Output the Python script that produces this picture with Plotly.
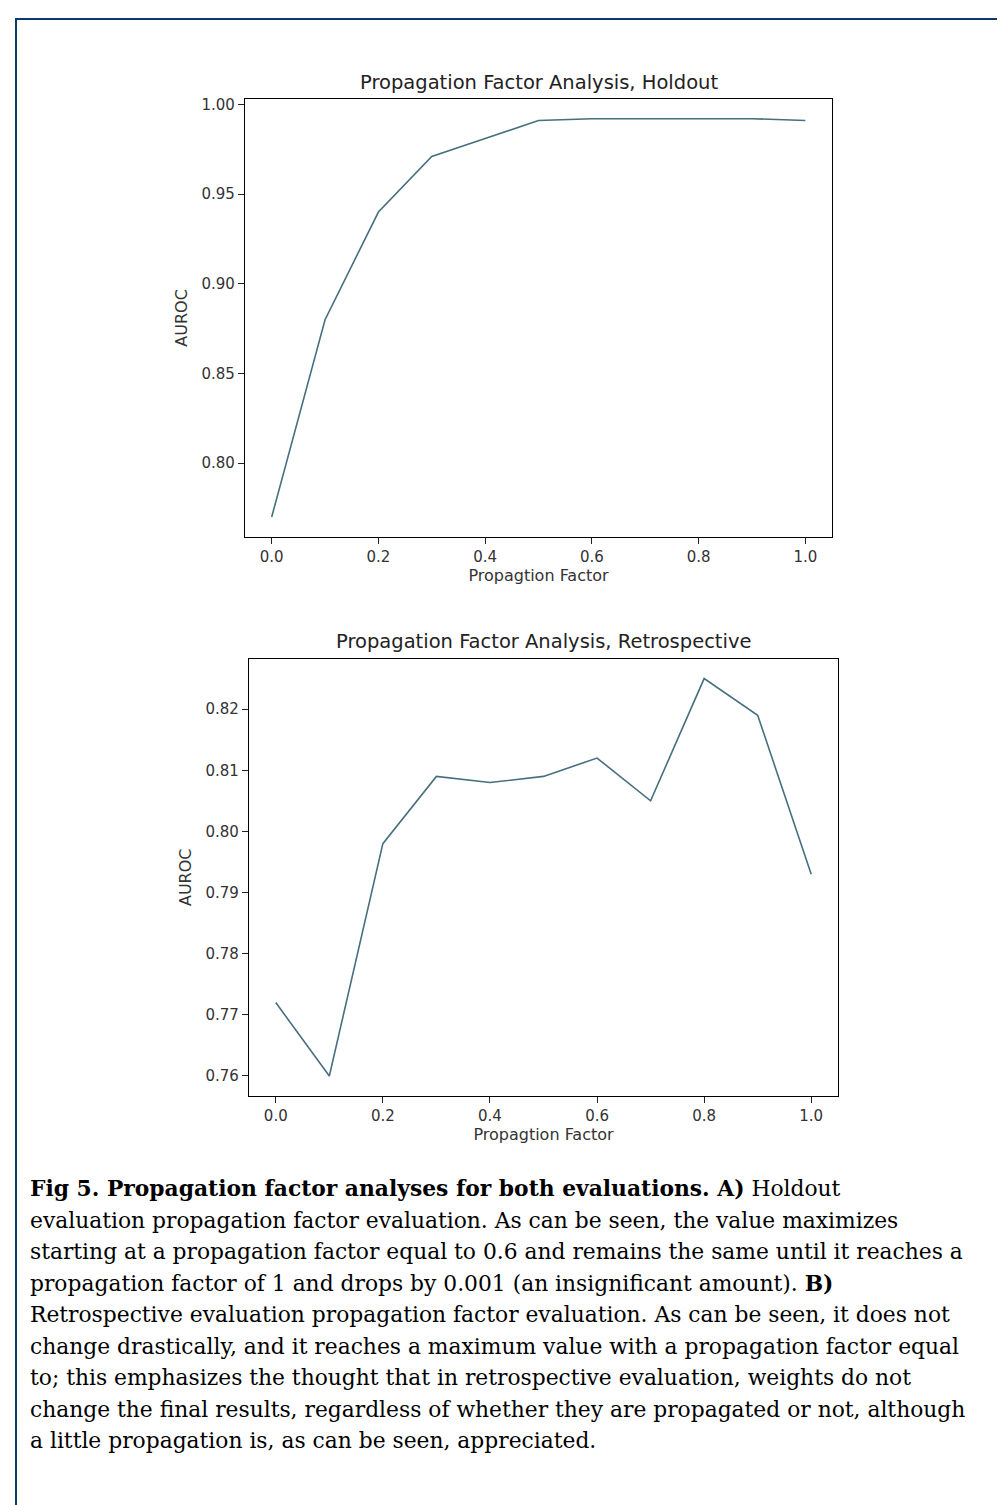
import plotly.graph_objects as go

W, H = 1005, 1505

factors = [0.0, 0.1, 0.2, 0.3, 0.4, 0.5, 0.6, 0.7, 0.8, 0.9, 1.0]
holdout_auroc = [0.770, 0.880, 0.940, 0.971, 0.981, 0.991, 0.992, 0.992, 0.992, 0.992, 0.991]
retro_auroc = [0.772, 0.760, 0.798, 0.809, 0.808, 0.809, 0.812, 0.805, 0.825, 0.819, 0.793]

x_ticks = [0.0, 0.2, 0.4, 0.6, 0.8, 1.0]
x_ticklabels = ["0.0", "0.2", "0.4", "0.6", "0.8", "1.0"]
holdout_yticks = [0.80, 0.85, 0.90, 0.95, 1.00]
holdout_yticklabels = ["0.80", "0.85", "0.90", "0.95", "1.00"]
retro_yticks = [0.76, 0.77, 0.78, 0.79, 0.80, 0.81, 0.82]
retro_yticklabels = ["0.76", "0.77", "0.78", "0.79", "0.80", "0.81", "0.82"]

title_top = "Propagation Factor Analysis, Holdout"
title_bottom = "Propagation Factor Analysis, Retrospective"
x_label = "Propagtion Factor"
y_label = "AUROC"

caption_lines = [
    "<b>Fig 5. Propagation factor analyses for both evaluations. A)</b> Holdout",
    "evaluation propagation factor evaluation. As can be seen, the value maximizes",
    "starting at a propagation factor equal to 0.6 and remains the same until it reaches a",
    "propagation factor of 1 and drops by 0.001 (an insignificant amount). <b>B)</b>",
    "Retrospective evaluation propagation factor evaluation. As can be seen, it does not",
    "change drastically, and it reaches a maximum value with a propagation factor equal",
    "to; this emphasizes the thought that in retrospective evaluation, weights do not",
    "change the final results, regardless of whether they are propagated or not, although",
    "a little propagation is, as can be seen, appreciated.",
]

LINE_COLOR = "#476f7e"
TXT = "#333333"
FONT = "DejaVu Sans"
TICK_SIZE = 15
LABEL_SIZE = 16
TITLE_SIZE = 19.5


def px_x(v):
    return v / W


def px_y(v):
    return 1 - v / H


fig = go.Figure()
fig.add_trace(go.Scatter(x=factors, y=holdout_auroc, mode="lines",
                         line=dict(color=LINE_COLOR, width=1.6),
                         xaxis="x", yaxis="y", showlegend=False))
fig.add_trace(go.Scatter(x=factors, y=retro_auroc, mode="lines",
                         line=dict(color=LINE_COLOR, width=1.6),
                         xaxis="x2", yaxis="y2", showlegend=False))


def rng(vals):
    lo, hi = min(vals), max(vals)
    m = (hi - lo) * 0.05
    return [lo - m, hi + m]


axis_common = dict(showline=True, linecolor="black", linewidth=1.3, mirror=True,
                   ticks="outside", ticklen=6, tickwidth=1, tickcolor="#222",
                   showgrid=False, zeroline=False,
                   tickfont=dict(family=FONT, size=TICK_SIZE, color=TXT))

fig.update_layout(
    width=W, height=H, margin=dict(l=0, r=0, t=0, b=0),
    paper_bgcolor="white", plot_bgcolor="white",
    xaxis=dict(domain=[px_x(237), px_x(824)], anchor="y", range=rng(factors),
               tickvals=x_ticks, ticktext=x_ticklabels,
               title=dict(text=x_label, font=dict(family=FONT, size=LABEL_SIZE, color=TXT), standoff=4),
               **axis_common),
    yaxis=dict(domain=[px_y(527), px_y(88)], anchor="x", range=rng(holdout_auroc),
               tickvals=holdout_yticks, ticktext=holdout_yticklabels,
               title=dict(text=y_label, font=dict(family=FONT, size=LABEL_SIZE, color=TXT), standoff=9),
               **axis_common),
    xaxis2=dict(domain=[px_x(241), px_x(830)], anchor="y2", range=rng(factors),
                tickvals=x_ticks, ticktext=x_ticklabels,
                title=dict(text=x_label, font=dict(family=FONT, size=LABEL_SIZE, color=TXT), standoff=4),
                **axis_common),
    yaxis2=dict(domain=[px_y(1087), px_y(649)], anchor="x2", range=rng(retro_auroc),
                tickvals=retro_yticks, ticktext=retro_yticklabels,
                title=dict(text=y_label, font=dict(family=FONT, size=LABEL_SIZE, color=TXT), standoff=9),
                **axis_common),
)

annotations = [
    dict(text=title_top, x=px_x((237 + 824) / 2), y=px_y(72), xref="paper", yref="paper",
         showarrow=False, xanchor="center", yanchor="middle",
         font=dict(family=FONT, size=TITLE_SIZE, color="#222")),
    dict(text=title_bottom, x=px_x((241 + 830) / 2), y=px_y(632), xref="paper", yref="paper",
         showarrow=False, xanchor="center", yanchor="middle",
         font=dict(family=FONT, size=TITLE_SIZE, color="#222")),
]

y0 = 1180
step = 31.6
for i, line in enumerate(caption_lines):
    annotations.append(dict(text=line, x=px_x(20), y=px_y(y0 + i * step), xref="paper", yref="paper",
                            showarrow=False, xanchor="left", yanchor="middle", align="left",
                            font=dict(family="DejaVu Serif", size=21.8, color="black")))
fig.update_layout(annotations=annotations)

fig.add_shape(type="rect", xref="paper", yref="paper",
              x0=px_x(8), x1=1.05, y0=-0.05, y1=px_y(8),
              line=dict(color="#0d3a6a", width=2), fillcolor="rgba(0,0,0,0)")

fig.write_html("out.html")
